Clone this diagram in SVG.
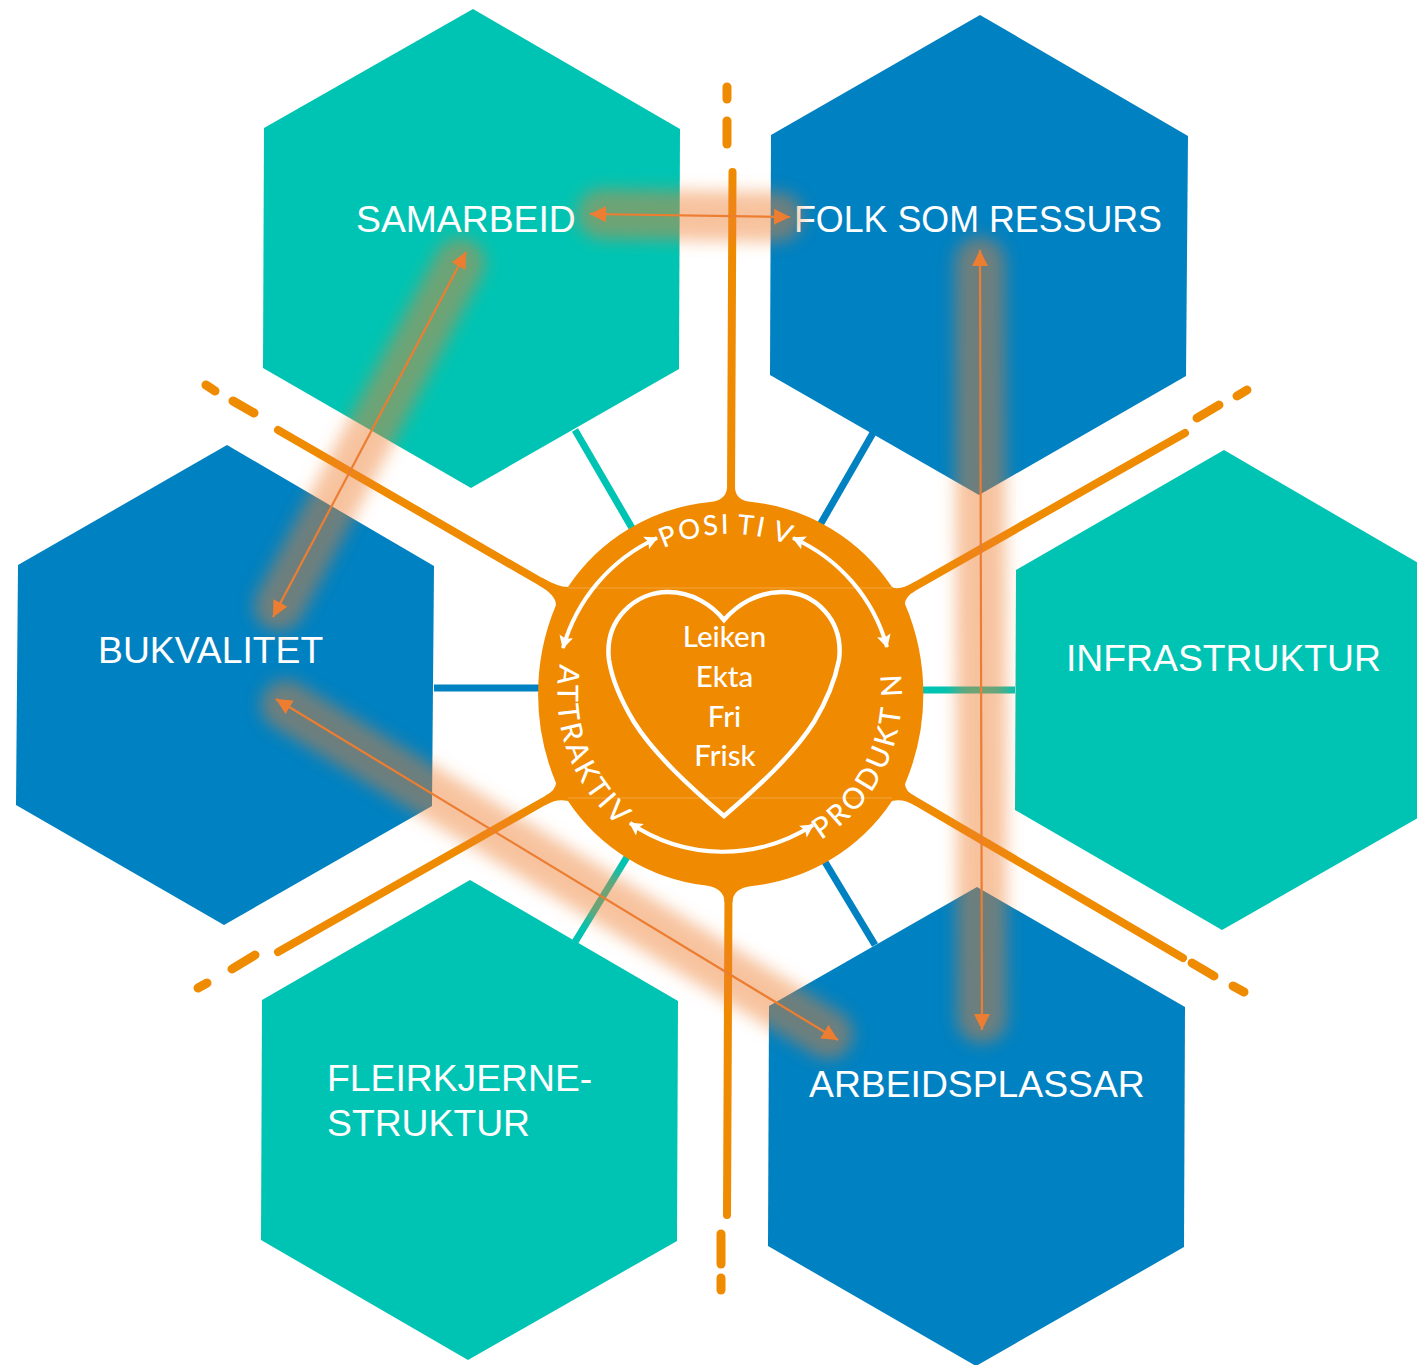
<svg xmlns="http://www.w3.org/2000/svg" width="1417" height="1365" viewBox="0 0 1417 1365">
<style>
.teal{fill:#00c4b3}.blue{fill:#0081c1}
.lab{font-family:"Liberation Sans",Arial,sans-serif;font-size:37.3px;fill:#fff}
.core{font-family:Lato,"Open Sans",sans-serif;font-size:29.5px;fill:#fff;text-anchor:middle;font-weight:500}
.arc{font-family:Lato,"Open Sans",sans-serif;font-size:27.5px;fill:#fff;font-weight:500;letter-spacing:2px}
.arc2{font-family:Lato,"Open Sans",sans-serif;font-size:29px;fill:#fff;font-weight:500}
.sp{fill:none;stroke:#ef8b00;stroke-linecap:round}
.st{stroke:#00c4b3;stroke-width:7;fill:none}.sb{stroke:#0081c1;stroke-width:7;fill:none}
.glow{stroke:#ed7d31;stroke-opacity:.46;stroke-width:50;stroke-linecap:round;fill:none;filter:url(#blur)}
.arr{stroke:#ed7d31;stroke-width:2.2;fill:none;marker-start:url(#oh);marker-end:url(#oh)}
.wa{stroke:#fff;stroke-width:4;fill:none;marker-start:url(#wh);marker-end:url(#wh)}
</style>
<defs>
<filter id="blur" x="0" y="0" width="1417" height="1365" filterUnits="userSpaceOnUse" primitiveUnits="userSpaceOnUse"><feGaussianBlur stdDeviation="8"/></filter>
<marker id="oh" viewBox="0 0 16 16" refX="16" refY="8" markerWidth="16" markerHeight="16" markerUnits="userSpaceOnUse" orient="auto-start-reverse"><path d="M0 0L16 8L0 16Z" fill="#ed7d31"/></marker>
<marker id="wh" viewBox="0 0 14 14" refX="13" refY="7" markerWidth="14" markerHeight="14" markerUnits="userSpaceOnUse" orient="auto-start-reverse"><path d="M1 0L14 7L1 14L3.5 7Z" fill="#fff"/></marker>
<path id="pPos" d="M663.4 548.5A160 160 0 0 1 800 550"/>
<path id="pAtt" d="M560 664A173 173 0 0 0 623.5 830"/>
<path id="pPro" d="M821 840A172 172 0 0 0 898 658"/>
</defs>

<g id="node-samarbeid"><polygon class="teal" points="473,9 680,129 679,369 471,488 263,368 264,128"/><text class="lab" x="356" y="232">SAMARBEID</text></g>
<g id="node-folk"><polygon class="blue" points="980,15 1188,136 1186,376 979,495 770,375 771,135"/><text class="lab" x="794" y="232" textLength="368" lengthAdjust="spacingAndGlyphs">FOLK SOM RESSURS</text></g>
<g id="node-bukvalitet"><polygon class="blue" points="227,445 434,566 432,806 224,925 16,805 18,565"/><text class="lab" x="98" y="663">BUKVALITET</text></g>
<g id="node-infrastruktur"><polygon class="teal" points="1224,450 1432,571 1430,811 1222,930 1015,810 1016,570"/><text class="lab" x="1066" y="671">INFRASTRUKTUR</text></g>
<g id="node-fleirkjerne"><polygon class="teal" points="470,880 678,1001 677,1241 468,1360 261,1240 262,1000"/><text class="lab" x="327" y="1091">FLEIRKJERNE-</text><text class="lab" x="327" y="1136">STRUKTUR</text></g>
<g id="node-arbeidsplassar"><polygon class="blue" points="977,887 1185,1007 1184,1247 976,1366 768,1246 769,1006"/><text class="lab" x="809" y="1097">ARBEIDSPLASSAR</text></g>

<g id="spokes">
<path class="st" d="M575 430L632 528"/><path class="sb" d="M873 433L820 525"/>
<path class="sb" d="M434 688H540"/><path class="st" d="M920 690H1015"/>
<path class="st" d="M627 857L575 942"/><path class="sb" d="M825 862L875 945"/>
<g class="sp" stroke-width="8">
<path d="M732.5 172L731 495"/><path d="M728.5 890L727 1215"/>
<path d="M278 430L555 590"/><path d="M1185 433L905 592"/>
<path d="M278 952L555 795"/><path d="M1183 958L905 795"/>
</g>
<g class="sp" stroke-width="9">
<path d="M727 87V99"/><path d="M727 121V144"/>
<path d="M721 1234V1264"/><path d="M721 1278V1290"/>
<path d="M206 385L215 391"/><path d="M233 401L254 413"/>
<path d="M1197 418L1219 405"/><path d="M1237 396L1247 390"/>
<path d="M198 988L207 983"/><path d="M232 969L255 955"/>
<path d="M1192 963L1214 976"/><path d="M1233 986L1244 992"/>
</g>
</g>

<g id="node-centre">
<path d="M752 502A193 193 0 0 1 892 587Q899 591 915 581.7L915 590.9Q905 596.6 905 604A230 230 0 0 1 905 784Q905 791 915 796.3L915 805.5Q903 798.4 892 801A193 193 0 0 1 752 886Q733 888 732.5 902H724.5Q724 888 706 885.5A193 193 0 0 1 568 801Q557 798 545 805.3L545 796Q556 790 556 783A230 230 0 0 1 556 605Q556 595 538 584.8L542 577.8Q558 587 568 587A193 193 0 0 1 708 502.3Q726 501 727 488H735Q736 501 752 502Z" fill="#f08a00"/>
<path d="M568 588H892M568 798H892" stroke="#f4a640" stroke-width="1" fill="none"/>
<path d="M724 816C690 787 655 755 634 722C622 702 612 680 609 660C604 620 635 592 668 592C692 592 712 605 724 620C737 605 757 592 782 592C815 592 844 620 839 660C835 680 826 702 814 722C793 755 758 787 724 816Z" fill="none" stroke="#fff" stroke-width="4.5"/>
<text class="core" x="724.5" y="647">Leiken</text>
<text class="core" x="724.5" y="687">Ekta</text>
<text class="core" x="724.5" y="727">Fri</text>
<text class="core" x="725" y="766">Frisk</text>
<text class="arc"><textPath href="#pPos">POSI<tspan dx="6">TI</tspan><tspan dx="6">V</tspan></textPath></text>
<text class="arc2"><textPath href="#pAtt" textLength="180" lengthAdjust="spacing">ATTRAKTIV</textPath></text>
<text class="arc2"><textPath href="#pPro" textLength="194" lengthAdjust="spacing">PRODUKT N</textPath></text>
<path class="wa" d="M657 538A172 172 0 0 0 563 648"/>
<path class="wa" d="M793 538A168 168 0 0 1 887 647"/>
<path class="wa" d="M630 823A165 165 0 0 0 813 825"/>
</g>

<g id="connectors">
<path class="glow" d="M602 214L778 217"/>
<path class="glow" d="M980 262L982 1018"/>
<path class="glow" d="M460 263L279 606"/>
<path class="glow" d="M286 705L828 1034"/>
<path class="arr" d="M590 214L790 217"/>
<path class="arr" d="M980 250L982 1030"/>
<path class="arr" d="M466 252L273 617"/>
<path class="arr" d="M276 699L838 1040"/>
</g>
</svg>
